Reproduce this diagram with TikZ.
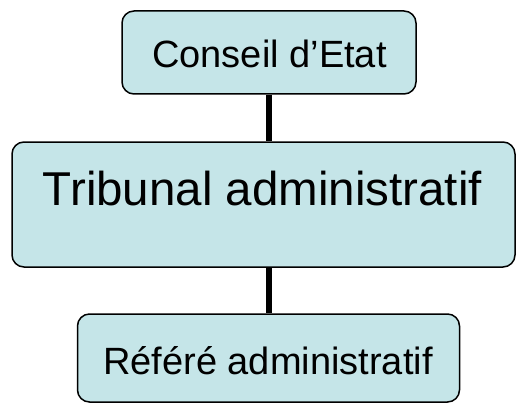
\documentclass[tikz,border=0pt]{standalone}
\usepackage{fontspec}
\setmainfont{Liberation Sans}
\definecolor{boxfill}{RGB}{197,229,232}
\begin{document}
\begin{tikzpicture}[x=1pt,y=-1pt,
  box/.style={draw=black, line width=1.5pt, fill=boxfill, rounded corners=12pt, inner sep=0pt},
  conn/.style={draw=black, line width=6pt},
  lbl/.style={anchor=base, inner sep=0pt}]
\useasboundingbox (0,0) rectangle (517,404);
\coordinate (cx) at (269,0);
\node[box, minimum width=294pt, minimum height=83pt] (ce) at (269,52.5) {};
\node[box, minimum width=503pt, minimum height=125pt] (ta) at (263.5,204.5) {};
\node[box, minimum width=382pt, minimum height=88pt] (ra) at (268.5,358) {};
\draw[conn] (ce.south -| cx) -- (ta.north -| cx);
\draw[conn] (ta.south -| cx) -- (ra.north -| cx);
\node[lbl] (tce) at (269.5,68) {\fontsize{38}{40}\selectfont Conseil d’Etat};
\node[lbl] (tta) at (262.5,205) {\fontsize{47.5}{50}\selectfont Tribunal administratif};
\node[lbl] (tra) at (268,374) {\fontsize{38}{40}\selectfont Référé administratif};
\end{tikzpicture}
\end{document}
